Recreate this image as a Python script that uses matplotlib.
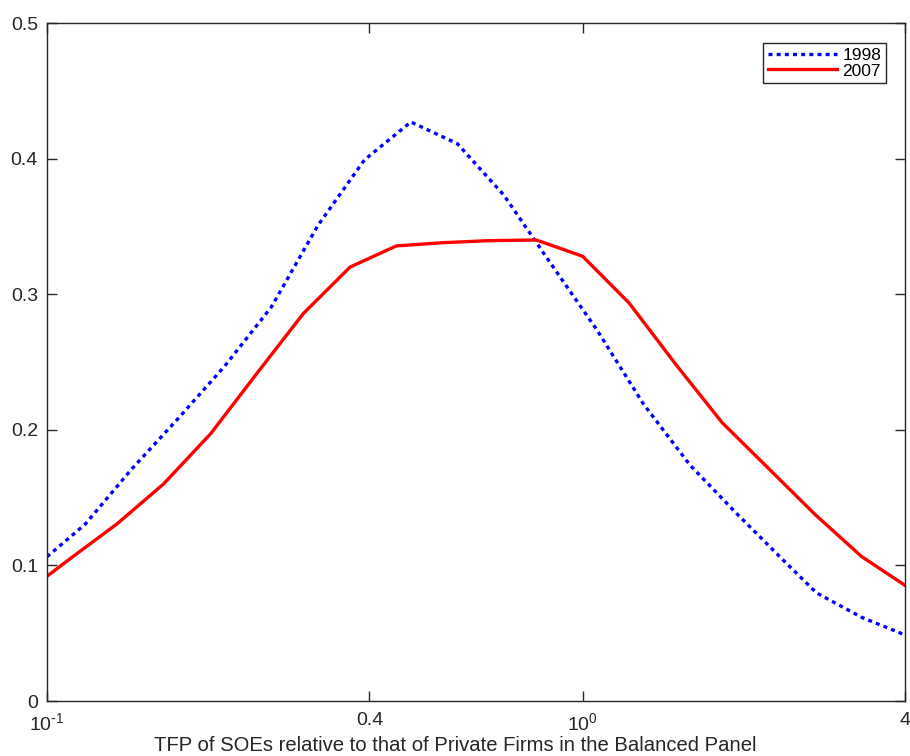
import matplotlib
matplotlib.use("Agg")
import matplotlib.pyplot as plt
from matplotlib.ticker import FixedLocator, NullLocator

plt.rcParams["font.family"] = "Liberation Sans"
plt.rcParams["font.size"] = 12
plt.rcParams["mathtext.default"] = "regular"

# values
x_1998 = [0.1, 0.1178, 0.1439, 0.1758, 0.2147, 0.2623, 0.3204, 0.3914, 0.4779, 0.5838,
          0.7131, 0.8709, 1.0638, 1.2993, 1.587, 1.938, 2.368, 2.735, 3.32, 4.0]
y_1998 = [0.1064, 0.1303, 0.171, 0.2084, 0.247, 0.2905, 0.3506, 0.399, 0.427, 0.411,
          0.373, 0.323, 0.2736, 0.219, 0.174, 0.1384, 0.104, 0.0797, 0.0617, 0.0487]

x_2007 = [0.1, 0.111, 0.135, 0.165, 0.202, 0.247, 0.301, 0.368, 0.449, 0.549,
          0.670, 0.819, 1.0, 1.221, 1.492, 1.822, 2.226, 2.718, 3.32, 4.0]
y_2007 = [0.092, 0.1056, 0.1305, 0.160, 0.197, 0.242, 0.2857, 0.320, 0.3356, 0.338,
          0.3395, 0.340, 0.328, 0.2936, 0.2484, 0.2053, 0.1714, 0.1375, 0.1065, 0.0853]

xticks = [0.1, 0.4, 1.0, 4.0]
xticklabels = ["$10^{\\text{-}1}$", "0.4", "$10^{0}$", "4"]
yticks = [0, 0.1, 0.2, 0.3, 0.4, 0.5]
yticklabels = ["0", "0.1", "0.2", "0.3", "0.4", "0.5"]

fig = plt.figure(figsize=(9.10, 7.56), dpi=100)
ax = fig.add_axes([47 / 910, 55 / 756, 858 / 910, 678 / 756])

ax.plot(x_1998, y_1998, color="blue", linewidth=2.4, linestyle=(0, (1.2, 1.25)),
        label="1998")
ax.plot(x_2007, y_2007, color="red", linewidth=2.4, label="2007")

ax.set_xscale("log")
ax.set_xlim(0.1, 4)
ax.set_ylim(0, 0.5)

ax.xaxis.set_major_locator(FixedLocator(xticks))
ax.xaxis.set_minor_locator(NullLocator())
ax.set_xticklabels(xticklabels)
ax.set_yticks(yticks)
ax.set_yticklabels(yticklabels)

axcol = "#262626"
for s in ax.spines.values():
    s.set_color(axcol)
    s.set_linewidth(1.0)
ax.tick_params(direction="in", length=7, width=1.0, color=axcol, labelcolor=axcol,
               top=True, right=True, labelsize=14)
ax.tick_params(axis="x", pad=8)
ax.tick_params(axis="y", pad=6.5)

ax.set_xlabel("TFP of SOEs relative to that of Private Firms in the Balanced Panel",
              fontsize=14.6, color=axcol)
ax.xaxis.set_label_coords(0.476, -0.052)

leg = ax.legend(loc="upper right", bbox_to_anchor=((886 - 47) / 858, (701 - 43) / 678),
                borderaxespad=0, fontsize=12.5, handlelength=4.0, handletextpad=0.3,
                labelspacing=0.02, borderpad=0.28, fancybox=False, framealpha=1,
                edgecolor=axcol)
leg.get_frame().set_linewidth(1.0)
for t in leg.get_texts():
    t.set_color("black")

fig.savefig("out.png", dpi=100)
